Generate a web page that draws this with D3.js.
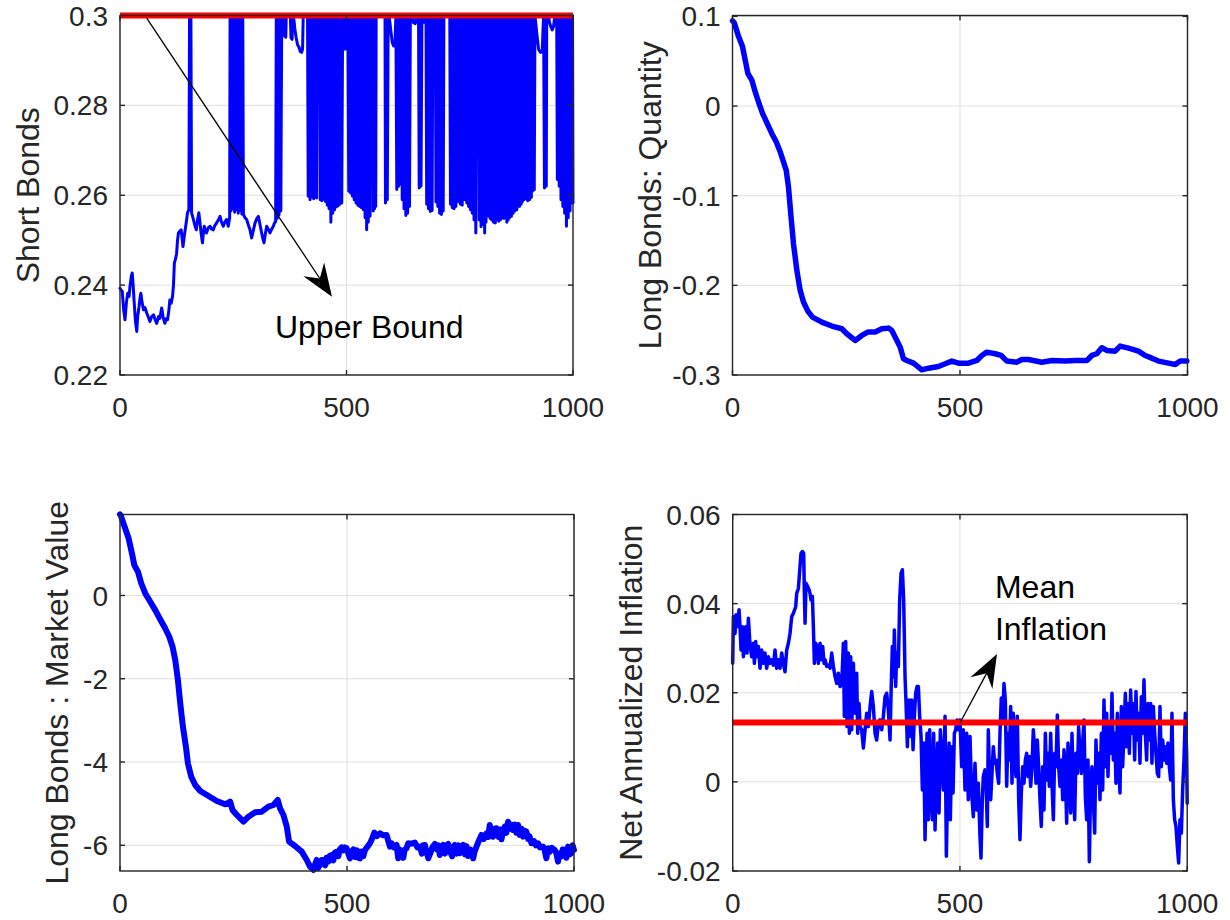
<!DOCTYPE html>
<html>
<head>
<meta charset="utf-8">
<script src="https://cdn.jsdelivr.net/npm/d3@7"></script>
<style>
  body { margin: 0; background: #fff; }
  svg { display: block; font-family: "Liberation Sans", Arial, Helvetica, sans-serif; }
</style>
</head>
<body>
<svg id="chart" width="1230" height="920"></svg>
<script>
// x ticks shared by all four panels
const xTicks = [0, 500, 1000];

// short bonds holdings, [t, value]
const shortBonds = [
  [0,0.2393],[3,0.2388],[5,0.2386],[8,0.2345],[11,0.2323],[14,0.2360],[17,0.2382],[20,0.2375],[22,0.2397],[25,0.2420],
  [27,0.2427],[29,0.2400],[31,0.2367],[34,0.2320],[37,0.2297],[39,0.2330],[42,0.2352],[44,0.2370],[46,0.2382],[49,0.2360],
  [52,0.2345],[55,0.2350],[59,0.2338],[62,0.2330],[66,0.2319],[70,0.2330],[74,0.2334],[78,0.2322],[81,0.2315],[85,0.2330],
  [88,0.2326],[92,0.2349],[95,0.2330],[99,0.2315],[102,0.2325],[105,0.2323],[108,0.2345],[110,0.2367],[113,0.2360],[116,0.2375],
  [118,0.2400],[120,0.2449],[123,0.2460],[125,0.2471],[127,0.2500],[129,0.2516],[132,0.2520],[135,0.2523],[137,0.2505],[139,0.2486],
  [142,0.2510],[145,0.2531],[147,0.2545],[149,0.2561],[152,0.2568],[153.5,0.3],[156.5,0.3],[158,0.2561],
  [161,0.2550],[164,0.2538],[166,0.2530],[168.5,0.2523],[171,0.2545],[174,0.2561],[177,0.2535],[179,0.2516],[182,0.2494],[184,0.2515],
  [186,0.2531],[189,0.2520],[191,0.2516],[195,0.2528],[199,0.2531],[202,0.2525],[206,0.2523],[209,0.2532],[213,0.2538],[217,0.2545],
  [221,0.2553],[224,0.2540],[228,0.2531],[231,0.2540],[235,0.2546],[239,0.2531],[242,0.2550],
  [243,0.3],[245,0.2565],[247,0.3],[249,0.2570],[251,0.3],[253,0.2562],[255,0.3],[257,0.2568],[259,0.3],[261,0.2560],
  [263,0.3],[265,0.2566],[267,0.3],[269,0.2558],[271,0.3],[272.5,0.2557],
  [276,0.2550],[279.6,0.2546],[283,0.2535],[287,0.2523],[290.6,0.2505],[294,0.2520],[298,0.2538],[302,0.2548],[305.4,0.2553],[309,0.2535],
  [312.7,0.2516],[315,0.2505],[317.9,0.2494],[321,0.2515],[323.8,0.2531],[327,0.2525],[331.1,0.2516],[335,0.2525],[338.5,0.2531],[341,0.2538],
  [343.6,0.2542],[345,0.3],[347,0.2548],[349,0.3],[351,0.2556],[353,0.3],[355,0.2565],[357,0.3],
  [362,0.3],[363,0.2955],[366,0.2952],[367,0.3],[376,0.3],[377.5,0.2950],[380,0.2947],[381,0.3],[384,0.2990],[386,0.2970],
  [389,0.2950],[392,0.2935],[395,0.2930],[398,0.2920],[401,0.2918],[403,0.2925],[404.5,0.3],[414,0.3],
  [415.5,0.2598],[417.5,0.3],[419.5,0.2590],[421.5,0.3],[423.5,0.2596],[425.5,0.3],[427.5,0.2592],[428.5,0.3],[433,0.3],[434,0.2594],
  [435.5,0.3],[437,0.3],[441,0.3],[442,0.2590],[443.5,0.3],[445.5,0.2588],[447.5,0.3],[449.5,0.2591],[451.5,0.3],[453.5,0.2586],
  [455.5,0.3],[457.5,0.2578],[459.5,0.3],[461.5,0.2570],[463.5,0.3],[465.5,0.2540],[467.5,0.3],[469.5,0.2560],[471.5,0.3],[473.5,0.2567],
  [475.5,0.3],[477.5,0.2574],[479.5,0.3],[481.5,0.2576],[483.5,0.3],[485.5,0.2580],[487.5,0.3],[489.5,0.2583],[491.5,0.3],
  [494,0.3],[495.5,0.2960],[497,0.2925],[499,0.2950],[500.5,0.3],[503,0.3],
  [505,0.2609],[507,0.3],[509,0.2605],[511,0.3],[513,0.2598],[515,0.3],[517,0.2590],[519,0.3],[521,0.2583],[523,0.3],
  [525,0.2578],[527,0.3],[529,0.2575],[531,0.3],[533,0.2572],[535,0.3],[537,0.2568],[539,0.3],[541,0.2550],[543,0.3],
  [544.5,0.2523],[546,0.3],[548,0.2540],[550,0.3],[552,0.2553],[553,0.3],[558,0.3],[559,0.2565],[560.5,0.3],[562,0.2570],[563.5,0.3],
  [564.5,0.2575],[565.5,0.3],[585,0.3],[586,0.2583],[588,0.3],[590,0.2590],[592,0.3],[594,0.3],
  [598,0.2965],[601,0.2940],[604,0.2932],[607,0.2938],[609,0.3],
  [611,0.2613],[613,0.3],[615,0.2620],[617,0.3],[619,0.2625],[621,0.3],
  [623,0.2590],[625,0.3],[627,0.2570],[629,0.3],[631,0.2555],[633,0.3],[635,0.2560],[637,0.3],[639,0.2575],[641,0.3],
  [645,0.3],[647,0.2985],[652,0.2982],[654,0.3],[659,0.3],[660.5,0.2616],[662.5,0.3],[664.5,0.2620],[666.5,0.3],
  [670,0.3],[671,0.2985],[673,0.3],[675.5,0.3],
  [677,0.2580],[679,0.3],[681,0.2570],[683,0.3],[685,0.2564],[687,0.3],[689,0.2566],[690.5,0.3],[696,0.3],
  [697.5,0.2585],[699.5,0.3],[701.5,0.2575],[703.5,0.3],[705.5,0.2560],[707.5,0.3],[709.5,0.2557],[711.5,0.3],[713.5,0.2565],[715,0.3],
  [728,0.3],[729.5,0.2580],[731.5,0.3],[733.5,0.2572],[735.5,0.3],[737.5,0.2570],[739.5,0.3],[741.5,0.2575],[742.5,0.3],[747,0.3],
  [748,0.2585],[749.5,0.3],[751.5,0.2580],[753.5,0.3],[755.5,0.2578],[756.5,0.3],[760,0.3],
  [761.5,0.2590],[763.5,0.3],[765.5,0.2583],[767.5,0.3],[769.5,0.2575],[771.5,0.3],[773.5,0.2568],[775.5,0.3],[777.5,0.2560],[779.5,0.3],
  [781.5,0.2545],[783.5,0.3],[785.5,0.2516],[787,0.3],[792,0.3],
  [793,0.2545],[795,0.3],[797,0.2530],[799,0.3],[801,0.2535],[803,0.3],[805,0.2516],[807,0.3],[808,0.2540],[809,0.3],[813,0.3],
  [814,0.2553],[815.5,0.3],[817,0.2548],[818.5,0.3],[820.5,0.2545],[822.5,0.3],[824.5,0.2540],[826.5,0.3],[828.5,0.2538],[830.5,0.3],
  [832.5,0.2545],[834.5,0.3],[836.5,0.2542],[838.5,0.3],[840.5,0.2546],[842.5,0.3],[844.5,0.2550],[846.5,0.3],[847.5,0.2548],[848.5,0.3],[853,0.3],
  [854,0.2540],[855.5,0.3],[857,0.2545],[858.5,0.3],[860,0.2550],[862,0.3],[864,0.2553],[866,0.3],[868,0.2560],[870,0.3],
  [872,0.2565],[874,0.3],[876,0.2568],[877,0.3],[881,0.3],[882,0.2575],[884,0.3],[885.5,0.2580],[887,0.3],[888,0.2585],[890,0.3],
  [892,0.2590],[894,0.3],[896,0.2592],[898,0.3],[900,0.2588],[902,0.3],[904,0.2590],[906,0.3],[908,0.2595],[909,0.3],
  [910.5,0.2609],[912.5,0.3],[914.5,0.2612],[916,0.3],[920,0.2960],[924,0.2925],[928,0.2918],[932,0.2920],[935,0.3],
  [937,0.2616],[939,0.3],[941,0.2620],[942,0.3],[946,0.3],[948,0.2985],[951,0.2975],[954,0.2968],[957,0.2975],[960,0.3],[964,0.3],
  [965.5,0.2635],[967.5,0.3],[969.5,0.2620],[971.5,0.3],[973.5,0.2590],[975.5,0.3],[977.5,0.2575],[979.5,0.3],[981.5,0.2560],[983.5,0.3],
  [985.5,0.2531],[987.5,0.3],[989.5,0.2550],[991.5,0.3],[993.5,0.2565],[995.5,0.3],[997.5,0.2583],[999,0.3],[1000,0.2583]
];
const upperBound = 0.3;

// long bonds quantity
const longQty = [
  [0,0.0950],[3.7,0.0931],[13.2,0.0778],[22,0.0663],[29.3,0.0477],[33.7,0.0365],[42.5,0.0290],[49.8,0.0160],[57,0.0048],[66,-0.0082],
  [75.5,-0.0186],[86.4,-0.0305],[96,-0.0399],[104.8,-0.0510],[112,-0.0622],[118,-0.0715],[123,-0.0901],[128,-0.1200],[134,-0.1534],[141.4,-0.1832],
  [148.7,-0.2056],[156,-0.2186],[165.6,-0.2287],[175.8,-0.2354],[196.3,-0.2410],[218.3,-0.2454],[240.3,-0.2484],[251.3,-0.2540],[269.6,-0.2615],[284.2,-0.2559],
  [297.4,-0.2521],[313.6,-0.2521],[328.2,-0.2484],[342.9,-0.2477],[350.2,-0.2503],[361.2,-0.2615],[368.5,-0.2689],[375.8,-0.2819],[383.2,-0.2838],[397.8,-0.2868],
  [408.8,-0.2912],[416,-0.2942],[430.8,-0.2924],[452.7,-0.2905],[467.4,-0.2875],[482,-0.2845],[496.7,-0.2868],[518.7,-0.2868],[537,-0.2838],[548,-0.2782],
  [559,-0.2745],[577.3,-0.2763],[590.5,-0.2782],[603,-0.2845],[624.9,-0.2857],[635.9,-0.2827],[650.5,-0.2827],[679.8,-0.2857],[701.8,-0.2838],[731,-0.2845],
  [753.1,-0.2838],[778.8,-0.2838],[789.7,-0.2782],[800.7,-0.2763],[811.7,-0.2696],[822.7,-0.2726],[841,-0.2734],[852,-0.2678],[870.3,-0.2700],[892.3,-0.2734],
  [907,-0.2782],[921.6,-0.2812],[936.3,-0.2845],[958.2,-0.2868],[973,-0.2883],[983.9,-0.2845],[998.5,-0.2845]
];

// long bonds market value
const longValue = [
  [0,1.945],[1.5,1.928],[10.3,1.648],[19.1,1.368],[26.4,1.008],[31.5,0.728],[39.6,0.568],[46.9,0.288],[55.7,0.048],[66.7,-0.152],
  [77.7,-0.352],[88.7,-0.576],[99.7,-0.792],[108.5,-0.992],[115.8,-1.232],[121.7,-1.552],[127.6,-2.032],[132.7,-2.592],[138.6,-3.152],[145.2,-3.632],
  [149.6,-4.032],[156.9,-4.352],[165.7,-4.552],[176.7,-4.696],[195,-4.816],[213.3,-4.936],[231.7,-5.016],[242.7,-4.952],[247.8,-5.152],[257.3,-5.272],
  [272,-5.432],[283,-5.312],[297.7,-5.208],[312.3,-5.192],[327,-5.072],[338,-5.032],[347.5,-4.912],[352.6,-5.112],[360,-5.272],[367.3,-5.552],
  [372.4,-5.912],[385.6,-6.016],[400.3,-6.152],[411.3,-6.352],[418.6,-6.512],[426,-6.592],[430,-6.45],[433.3,-6.352],[436,-6.55],[440.6,-6.472],
  [444,-6.35],[448,-6.352],[452,-6.48],[455,-6.30],[459,-6.392],[462,-6.25],[466.3,-6.232],[470,-6.36],[473,-6.18],[477.3,-6.152],
  [481,-6.26],[484,-6.10],[488.3,-6.048],[492,-6.12],[495,-6.05],[499.3,-6.072],[503,-6.20],[506.6,-6.312],[510,-6.15],[514,-6.096],
  [518,-6.28],[522,-6.12],[525,-6.30],[528.6,-6.312],[532,-6.15],[536,-6.26],[539.6,-6.112],[544,-6.05],[550.6,-5.952],[555,-5.85],
  [560.1,-5.696],[566,-5.78],[572.6,-5.712],[580,-5.76],[587.2,-5.752],[591,-5.90],[594.6,-6.032],[598.2,-5.952],[603,-6.05],[609.2,-5.992],
  [612.8,-6.312],[616,-6.10],[620.2,-6.192],[624,-6.30],[627,-6.10],[631.2,-6.072],[634.9,-5.952],[642,-5.96],[649.6,-5.936],[655,-6.05],
  [660.6,-6.032],[665,-6.20],[668,-6.00],[671.6,-5.992],[675,-6.15],[679,-6.312],[684.8,-6.152],[688,-6.05],[693.5,-5.968],[698,-6.10],
  [701,-6.00],[704.5,-6.232],[708,-6.05],[711.9,-5.992],[716,-6.20],[719,-6.00],[722.9,-5.968],[727,-6.15],[731.7,-6.264],[734,-6.05],
  [737.5,-5.992],[742,-6.20],[745,-6.00],[748.5,-6.192],[752,-6.05],[755.9,-5.992],[760,-6.22],[763,-6.02],[766.9,-6.256],[772,-6.10],
  [777.9,-6.312],[781,-6.15],[785.2,-6.032],[790,-5.90],[796.2,-5.752],[801,-5.85],[807.2,-5.712],[811,-5.80],[814.5,-5.512],[818,-5.70],
  [821.8,-5.792],[825,-5.60],[829.2,-5.592],[834,-5.80],[837,-5.62],[840.2,-5.856],[844,-5.65],[847.5,-5.552],[851,-5.70],[854.8,-5.432],
  [859,-5.60],[862,-5.50],[865.8,-5.632],[870,-5.50],[873,-5.70],[876.8,-5.512],[880,-5.75],[884,-5.60],[887.8,-5.792],[891,-5.65],
  [895.2,-5.672],[899,-5.85],[902,-5.78],[906.2,-5.952],[912,-5.90],[916,-6.00],[920.8,-5.952],[925,-6.05],[931.8,-6.032],[935,-6.10],
  [939.1,-6.312],[942.8,-6.072],[947,-6.15],[951,-6.06],[957.5,-6.112],[961,-6.18],[964.8,-6.392],[968,-6.20],[972.1,-6.264],[975,-6.10],
  [979.5,-6.112],[983,-6.30],[986.8,-6.032],[990,-6.22],[994.1,-6.192],[997,-6.00],[1000,-6.112]
];

// net annualized inflation
const inflation = [
  [0,0.0266],[1.5,0.0371],[5.1,0.0333],[7.3,0.0375],[10.3,0.0348],[13.9,0.0386],[16.1,0.0348],[18.3,0.0296],[21.3,0.0348],[23.5,0.0281],
  [25.7,0.0304],[28.6,0.0348],[31.5,0.0289],[34.5,0.0367],[37.4,0.0319],[39.6,0.0296],[41.8,0.0281],[45.5,0.0311],[47.7,0.0266],[50.6,0.0315],
  [52.8,0.0281],[56.5,0.0304],[60.1,0.0255],[63.8,0.0296],[67.5,0.0266],[71.1,0.0289],[74.8,0.0255],[78.5,0.0281],[82.1,0.0266],[85.8,0.0274],
  [89.5,0.0262],[93.1,0.0296],[96.8,0.0255],[100.5,0.0274],[104.1,0.0255],[107.8,0.0289],[111.5,0.0266],[115.1,0.0247],[118.8,0.0296],[122.5,0.0311],
  [126.1,0.0333],[129.8,0.0371],[133.5,0.0378],[138.6,0.0393],[140.8,0.0423],[144.5,0.0434],[148.1,0.0483],[150.3,0.0513],[153.3,0.0517],[156.2,0.0513],
  [157.7,0.0423],[159.2,0.0356],[161.3,0.0446],[165,0.0438],[168,0.0431],[170.2,0.0423],[172.3,0.0408],[175.3,0.0416],[177.5,0.0348],[179.7,0.0266],
  [182.6,0.0311],[186.3,0.0304],[188.5,0.0266],[192.2,0.0311],[195.8,0.0274],[198,0.0304],[201,0.0266],[203.2,0.0274],[206.8,0.0259],[210.5,0.0262],
  [214.2,0.0255],[217.8,0.0289],[221.5,0.0259],[225.2,0.0236],[228.8,0.0221],[232.5,0.0244],[236.2,0.0214],[239.8,0.0218],[243.5,0.0311],[245.7,0.0147],
  [248.6,0.0315],[251.6,0.0124],[254.5,0.0289],[256.7,0.0109],[259.6,0.0281],[261.8,0.0117],[265.5,0.0266],[269.2,0.0154],[272.8,0.0244],[275,0.0109],
  [278,0.0176],[280.2,0.0124],[283.8,0.0117],[287.5,0.0076],[291.2,0.0117],[294.8,0.0154],[298.5,0.0124],[302.2,0.0169],[305.8,0.0203],[309.5,0.0169],
  [313.2,0.0109],[316.8,0.0094],[320.5,0.0132],[324.2,0.0139],[327.8,0.0117],[331.5,0.0147],[335.2,0.0191],[338.8,0.0199],[342.5,0.0161],[346.2,0.0094],
  [348.4,0.0199],[351.3,0.0304],[353.5,0.0236],[355.7,0.0341],[358.6,0.0214],[360.8,0.0289],[364.5,0.0259],[367.4,0.0408],[370.4,0.0468],[373.3,0.0476],
  [376.2,0.0408],[379.2,0.0236],[381.4,0.0176],[384.3,0.0079],[388,0.0184],[390.9,0.0102],[393.8,0.0184],[396.8,0.0072],[399.7,0.0147],[402.6,0.0199],
  [405.6,0.0214],[408.5,0.0214],[411.4,0.0147],[414.4,0.0102],[417.3,-0.0018],[420.2,0.0087],[423.2,-0.0130],[425.4,-0.0010],[427.6,0.0109],[430.5,-0.0085],
  [433.4,0.0117],[436.4,-0.0025],[439.3,-0.0085],[442.2,0.0109],[445.2,-0.0108],[448.1,0.0012],[451,0.0087],[454,-0.0070],[456.9,0.0117],[459.8,0.0064],
  [463.5,-0.0018],[467.2,0.0147],[470.1,-0.0167],[473,-0.0003],[476,0.0087],[478.9,-0.0085],[481.8,0.0079],[484.8,-0.0025],[487.7,0.0109],[490.6,0.0117],
  [493.6,0.0139],[496.5,0.0117],[500.1,0.0139],[503.8,0.0034],[507.4,0.0117],[511.1,-0.0018],[514.8,0.0109],[518.4,-0.0040],[522.1,0.0102],[525.8,-0.0025],
  [529.4,-0.0078],[533.1,0.0042],[536.8,-0.0063],[540.4,-0.0003],[544.1,-0.0123],[546.3,-0.0171],[549.2,-0.0040],[551.4,0.0012],[555.1,0.0027],[557.3,0.0004],
  [560.2,-0.0100],[562.4,0.0117],[564.6,0.0034],[567.6,-0.0040],[570.5,0.0019],[573.4,0.0079],[576.4,0.0042],[579.3,0.0049],[582.2,0.0019],[585.2,-0.0003],
  [588.1,0.0109],[591,0.0188],[594,0.0139],[596.9,0.0221],[599.8,0.0184],[602.8,-0.0010],[605.7,0.0109],[608.6,0.0049],[611.6,0.0169],[614.5,-0.0003],
  [617.4,0.0154],[620.4,0.0049],[623.3,0.0012],[626.2,0.0147],[629.2,-0.0040],[632.1,-0.0130],[635,-0.0025],[638,0.0034],[640.9,-0.0003],[643.8,0.0049],
  [646.8,0.0064],[649.7,0.0012],[652.6,0.0057],[655.6,-0.0010],[658.5,0.0034],[661.4,0.0117],[664.4,0.0072],[667.3,-0.0003],[670.2,0.0094],[673.2,0.0034],
  [676.1,-0.0040],[679,-0.0100],[682,0.0034],[684.9,-0.0063],[687.9,0.0109],[690.8,0.0004],[693.7,0.0064],[696.7,-0.0010],[699.6,0.0109],[702.5,-0.0003],
  [705.5,-0.0085],[708.4,0.0064],[711.3,0.0034],[714.3,0.0150],[717.2,0.0034],[720.1,-0.0010],[723.1,0.0049],[726,-0.0040],[728.9,0.0072],[731.9,0.0019],
  [734.8,-0.0093],[737.7,0.0087],[740.7,0.0034],[743.6,-0.0070],[746.5,0.0109],[749.5,-0.0003],[752.4,-0.0085],[755.3,0.0064],[758.3,0.0019],[761.2,0.0124],
  [764.1,0.0064],[767.1,0.0019],[770,0.0087],[772.9,0.0139],[775.9,-0.0033],[778.8,-0.0085],[781.7,0.0049],[784.7,-0.0179],[787.6,-0.0003],[790.5,0.0034],
  [793.5,-0.0040],[796.4,-0.0115],[799.3,0.0094],[802.3,-0.0003],[805.2,0.0064],[808.1,-0.0040],[811.1,0.0109],[814,-0.0018],[816.9,0.0184],[819.9,0.0034],
  [822.8,0.0154],[825.7,0.0012],[828.7,0.0124],[831.6,0.0064],[834.5,0.0199],[837.5,0.0049],[840.4,0.0109],[843.3,-0.0003],[846.3,0.0154],[849.2,0.0042],
  [852.1,-0.0025],[855.1,0.0169],[858,0.0034],[860.9,0.0109],[863.9,0.0199],[866.8,0.0079],[869.7,0.0176],[872.7,0.0064],[875.6,0.0206],[878.5,0.0109],
  [881.5,0.0176],[884.4,0.0049],[887.3,0.0203],[890.3,0.0094],[893.2,0.0154],[896.1,0.0042],[899.1,0.0191],[902,0.0109],[904.9,0.0229],[907.9,0.0109],
  [910.8,0.0049],[913.7,0.0176],[916.7,0.0094],[919.6,0.0176],[922.5,0.0042],[925.5,0.0169],[928.4,0.0109],[931.3,0.0064],[934.3,0.0019],[937.2,0.0012],
  [940.1,0.0169],[943.1,0.0034],[946,0.0094],[948.9,0.0049],[951.9,0.0079],[954.8,0.0042],[957.7,0.0087],[960.7,0.0034],[963.6,0.0004],[966.5,0.0154],
  [969.5,-0.0040],[972.4,-0.0085],[975.3,-0.0100],[978.3,-0.0145],[981.2,-0.0182],[984.1,-0.0085],[987.1,-0.0115],[990,-0.0018],[992.9,0.0049],[995.9,0.0154],
  [998.8,0.0064],[1000,-0.0048]
];
const meanInflation = 0.0133;

const svg = d3.select("#chart");
const axisColor = "#262626";

function drawPanel(p) {
    const g = svg.append("g").attr("transform", `translate(${p.left},${p.top})`);
    const w = p.width, h = p.height;

    const x = d3.scaleLinear().domain([0, 1000]).range([0, w]);
    const y = d3.scaleLinear().domain(p.yDomain).range([h, 0]);

    // grid
    g.selectAll(".gx").data(xTicks).enter().append("line")
        .attr("x1", d => x(d)).attr("x2", d => x(d))
        .attr("y1", 0).attr("y2", h)
        .attr("stroke", "#dfdfdf").attr("stroke-width", 1);
    g.selectAll(".gy").data(p.yTicks).enter().append("line")
        .attr("x1", 0).attr("x2", w)
        .attr("y1", d => y(d)).attr("y2", d => y(d))
        .attr("stroke", "#dfdfdf").attr("stroke-width", 1);

    // data line
    const line = d3.line().x(d => x(d[0])).y(d => y(d[1]));
    g.append("path")
        .datum(p.data)
        .attr("d", line)
        .attr("fill", "none")
        .attr("stroke", "#0000ff")
        .attr("stroke-width", p.lineWidth)
        .attr("stroke-linejoin", "round")
        .attr("stroke-linecap", "round");

    if (p.hline !== undefined) {
        g.append("line")
            .attr("x1", x(0)).attr("x2", x(1000))
            .attr("y1", y(p.hline)).attr("y2", y(p.hline))
            .attr("stroke", "#ff0000").attr("stroke-width", 6);
    }

    // box
    g.append("rect")
        .attr("width", w).attr("height", h)
        .attr("fill", "none").attr("stroke", axisColor).attr("stroke-width", 1.4);

    // inward ticks on all sides
    const tl = 5;
    xTicks.forEach(t => {
        g.append("line").attr("x1", x(t)).attr("x2", x(t)).attr("y1", h).attr("y2", h - tl)
            .attr("stroke", axisColor).attr("stroke-width", 1.4);
        g.append("line").attr("x1", x(t)).attr("x2", x(t)).attr("y1", 0).attr("y2", tl)
            .attr("stroke", axisColor).attr("stroke-width", 1.4);
    });
    p.yTicks.forEach(t => {
        g.append("line").attr("x1", 0).attr("x2", tl).attr("y1", y(t)).attr("y2", y(t))
            .attr("stroke", axisColor).attr("stroke-width", 1.4);
        g.append("line").attr("x1", w).attr("x2", w - tl).attr("y1", y(t)).attr("y2", y(t))
            .attr("stroke", axisColor).attr("stroke-width", 1.4);
    });

    // tick labels
    g.selectAll(".xl").data(xTicks).enter().append("text")
        .attr("x", d => x(d)).attr("y", h + 42)
        .attr("text-anchor", "middle")
        .attr("font-size", 28).attr("fill", axisColor)
        .text(d => String(d));
    const yl = g.selectAll(".yl").data(p.yTicks).enter().append("text")
        .attr("x", -12).attr("y", d => y(d)).attr("dy", "0.36em")
        .attr("text-anchor", "end")
        .attr("font-size", 28).attr("fill", axisColor)
        .text(d => String(d));

    let maxW = 0;
    yl.each(function() { maxW = Math.max(maxW, this.getComputedTextLength()); });

    // y label
    g.append("text")
        .attr("transform", `translate(${-12 - maxW - p.labelGap},${h / 2}) rotate(-90)`)
        .attr("text-anchor", "middle")
        .attr("font-size", 32).attr("fill", axisColor)
        .text(p.label);

    return { g, x, y };
}

function arrow(g, x0, y0, x1, y1) {
    const dx = x1 - x0, dy = y1 - y0, len = Math.hypot(dx, dy);
    const ux = dx / len, uy = dy / len, nx = -uy, ny = ux;
    const L = 33, W = 12.5, N = 22;
    g.append("line").attr("x1", x0).attr("y1", y0)
        .attr("x2", x1 - ux * N).attr("y2", y1 - uy * N)
        .attr("stroke", "#000").attr("stroke-width", 1.3);
    const pts = [
        [x1, y1],
        [x1 - ux * L + nx * W, y1 - uy * L + ny * W],
        [x1 - ux * N, y1 - uy * N],
        [x1 - ux * L - nx * W, y1 - uy * L - ny * W]
    ];
    g.append("path").attr("d", "M" + pts.map(p => p.join(",")).join("L") + "Z").attr("fill", "#000");
}

// top-left: short bonds
const p1 = drawPanel({
    left: 120, top: 15.5, width: 453, height: 359.5,
    yDomain: [0.22, 0.3], yTicks: [0.22, 0.24, 0.26, 0.28, 0.3],
    data: shortBonds, lineWidth: 3, hline: upperBound, label: "Short Bonds", labelGap: 15
});
arrow(p1.g, p1.x(59), p1.y(0.2994), p1.x(468), p1.y(0.2374));
p1.g.append("text").attr("x", p1.x(342)).attr("y", p1.y(0.2282))
    .attr("font-size", 32).attr("fill", "#000").text("Upper Bound");

// top-right: long bonds quantity
drawPanel({
    left: 732.5, top: 15.5, width: 455, height: 359.5,
    yDomain: [-0.3, 0.101], yTicks: [-0.3, -0.2, -0.1, 0, 0.1],
    data: longQty, lineWidth: 5.5, label: "Long Bonds: Quantity", labelGap: 11
});

// bottom-left: long bonds market value
drawPanel({
    left: 120, top: 514.5, width: 454, height: 356.5,
    yDomain: [-6.617, 1.945], yTicks: [-6, -4, -2, 0],
    data: longValue, lineWidth: 6, label: "Long Bonds : Market Value", labelGap: 15
});

// bottom-right: inflation
const p4 = drawPanel({
    left: 732.7, top: 514.5, width: 454.5, height: 356.5,
    yDomain: [-0.02, 0.06], yTicks: [-0.02, 0, 0.02, 0.04, 0.06],
    data: inflation, lineWidth: 3.5, hline: meanInflation, label: "Net Annualized Inflation", labelGap: 15
});
arrow(p4.g, p4.x(500), p4.y(0.0132), p4.x(581.5), p4.y(0.0287));
p4.g.append("text").attr("x", p4.x(577)).attr("y", p4.y(0.0413))
    .attr("font-size", 32).attr("fill", "#000").text("Mean");
p4.g.append("text").attr("x", p4.x(577)).attr("y", p4.y(0.0318))
    .attr("font-size", 32).attr("fill", "#000").text("Inflation");
</script>
</body>
</html>
